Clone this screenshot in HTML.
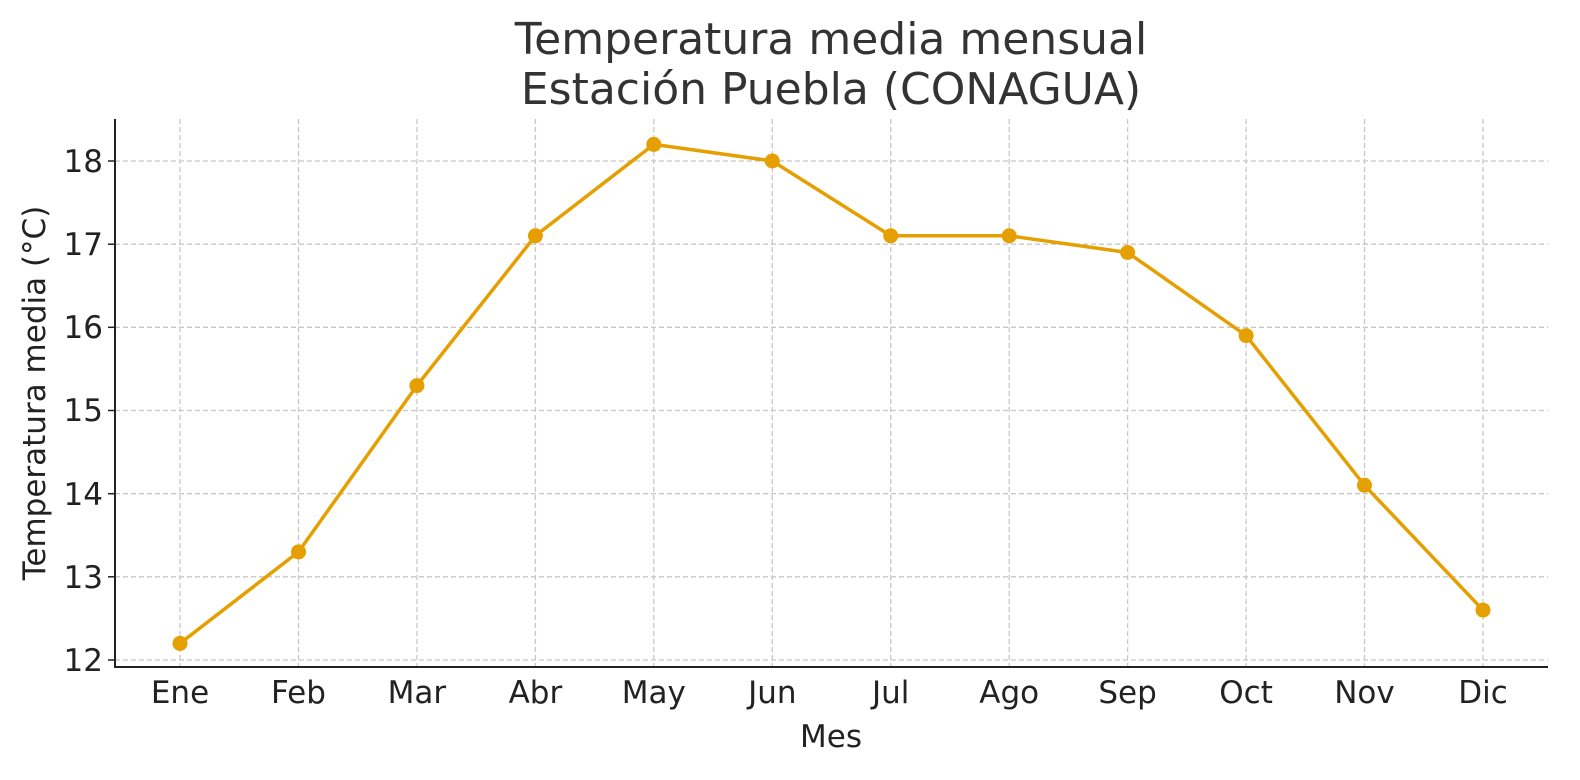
<!DOCTYPE html>
<html><head><meta charset="utf-8"><style>
html,body{margin:0;padding:0;background:#fff;}
svg{display:block;font-family:"DejaVu Sans","Liberation Sans",sans-serif;}
</style></head><body>
<svg width="1580" height="780" viewBox="0 0 1580 780" xmlns="http://www.w3.org/2000/svg">
<rect width="1580" height="780" fill="#fff"/>
<g stroke="#c8c8c8" stroke-width="1.3" stroke-dasharray="5,3">
<line x1="115" x2="1548" y1="161" y2="161"/>
<line x1="115" x2="1548" y1="244.2" y2="244.2"/>
<line x1="115" x2="1548" y1="327.3" y2="327.3"/>
<line x1="115" x2="1548" y1="410.5" y2="410.5"/>
<line x1="115" x2="1548" y1="493.7" y2="493.7"/>
<line x1="115" x2="1548" y1="576.8" y2="576.8"/>
<line x1="115" x2="1548" y1="660" y2="660"/>
<line x1="180" x2="180" y1="119" y2="667"/>
<line x1="298.5" x2="298.5" y1="119" y2="667"/>
<line x1="416.9" x2="416.9" y1="119" y2="667"/>
<line x1="535.4" x2="535.4" y1="119" y2="667"/>
<line x1="653.8" x2="653.8" y1="119" y2="667"/>
<line x1="772.3" x2="772.3" y1="119" y2="667"/>
<line x1="890.7" x2="890.7" y1="119" y2="667"/>
<line x1="1009.2" x2="1009.2" y1="119" y2="667"/>
<line x1="1127.6" x2="1127.6" y1="119" y2="667"/>
<line x1="1246.1" x2="1246.1" y1="119" y2="667"/>
<line x1="1364.5" x2="1364.5" y1="119" y2="667"/>
<line x1="1483" x2="1483" y1="119" y2="667"/>
</g>
<g stroke="#222" stroke-width="2">
<line x1="115" x2="115" y1="119" y2="668"/>
<line x1="114" x2="1548" y1="667" y2="667"/>
</g>
<g stroke="#222" stroke-width="1.5">
<line x1="108" x2="115" y1="161" y2="161"/><line x1="108" x2="115" y1="244.2" y2="244.2"/>
<line x1="108" x2="115" y1="327.3" y2="327.3"/><line x1="108" x2="115" y1="410.5" y2="410.5"/>
<line x1="108" x2="115" y1="493.7" y2="493.7"/><line x1="108" x2="115" y1="576.8" y2="576.8"/>
<line x1="108" x2="115" y1="660" y2="660"/>
</g>
<g font-size="31" fill="#222" text-anchor="end">
<text x="103" y="172">18</text><text x="103" y="255">17</text><text x="103" y="338">16</text>
<text x="103" y="421">15</text><text x="103" y="505">14</text><text x="103" y="588">13</text><text x="103" y="671">12</text>
</g>
<g font-size="31" fill="#222" text-anchor="middle">
<text x="180" y="703">Ene</text><text x="298.5" y="703">Feb</text><text x="416.9" y="703">Mar</text>
<text x="535.4" y="703">Abr</text><text x="653.8" y="703">May</text><text x="772.3" y="703">Jun</text>
<text x="890.7" y="703">Jul</text><text x="1009.2" y="703">Ago</text><text x="1127.6" y="703">Sep</text>
<text x="1246.1" y="703">Oct</text><text x="1364.5" y="703">Nov</text><text x="1483" y="703">Dic</text>
</g>
<text x="831" y="747" font-size="31" fill="#222" text-anchor="middle">Mes</text>
<text transform="translate(45,393) rotate(-90)" font-size="31" fill="#222" text-anchor="middle">Temperatura media (°C)</text>
<text x="831" y="54" font-size="44" fill="#333" text-anchor="middle">Temperatura media mensual</text>
<text x="831" y="104" font-size="44" fill="#333" text-anchor="middle">Estación Puebla (CONAGUA)</text>
<polyline fill="none" stroke="#E69F00" stroke-width="3.5" stroke-linejoin="round"
points="180,643.4 298.5,551.9 416.9,385.6 535.4,235.8 653.8,144.4 772.3,161 890.7,235.8 1009.2,235.8 1127.6,252.5 1246.1,335.6 1364.5,485.3 1483,610.1"/>
<g fill="#E69F00">
<circle cx="180" cy="643.4" r="7.5"/><circle cx="298.5" cy="551.9" r="7.5"/><circle cx="416.9" cy="385.6" r="7.5"/>
<circle cx="535.4" cy="235.8" r="7.5"/><circle cx="653.8" cy="144.4" r="7.5"/><circle cx="772.3" cy="161" r="7.5"/>
<circle cx="890.7" cy="235.8" r="7.5"/><circle cx="1009.2" cy="235.8" r="7.5"/><circle cx="1127.6" cy="252.5" r="7.5"/>
<circle cx="1246.1" cy="335.6" r="7.5"/><circle cx="1364.5" cy="485.3" r="7.5"/><circle cx="1483" cy="610.1" r="7.5"/>
</g>
</svg>
</body></html>
